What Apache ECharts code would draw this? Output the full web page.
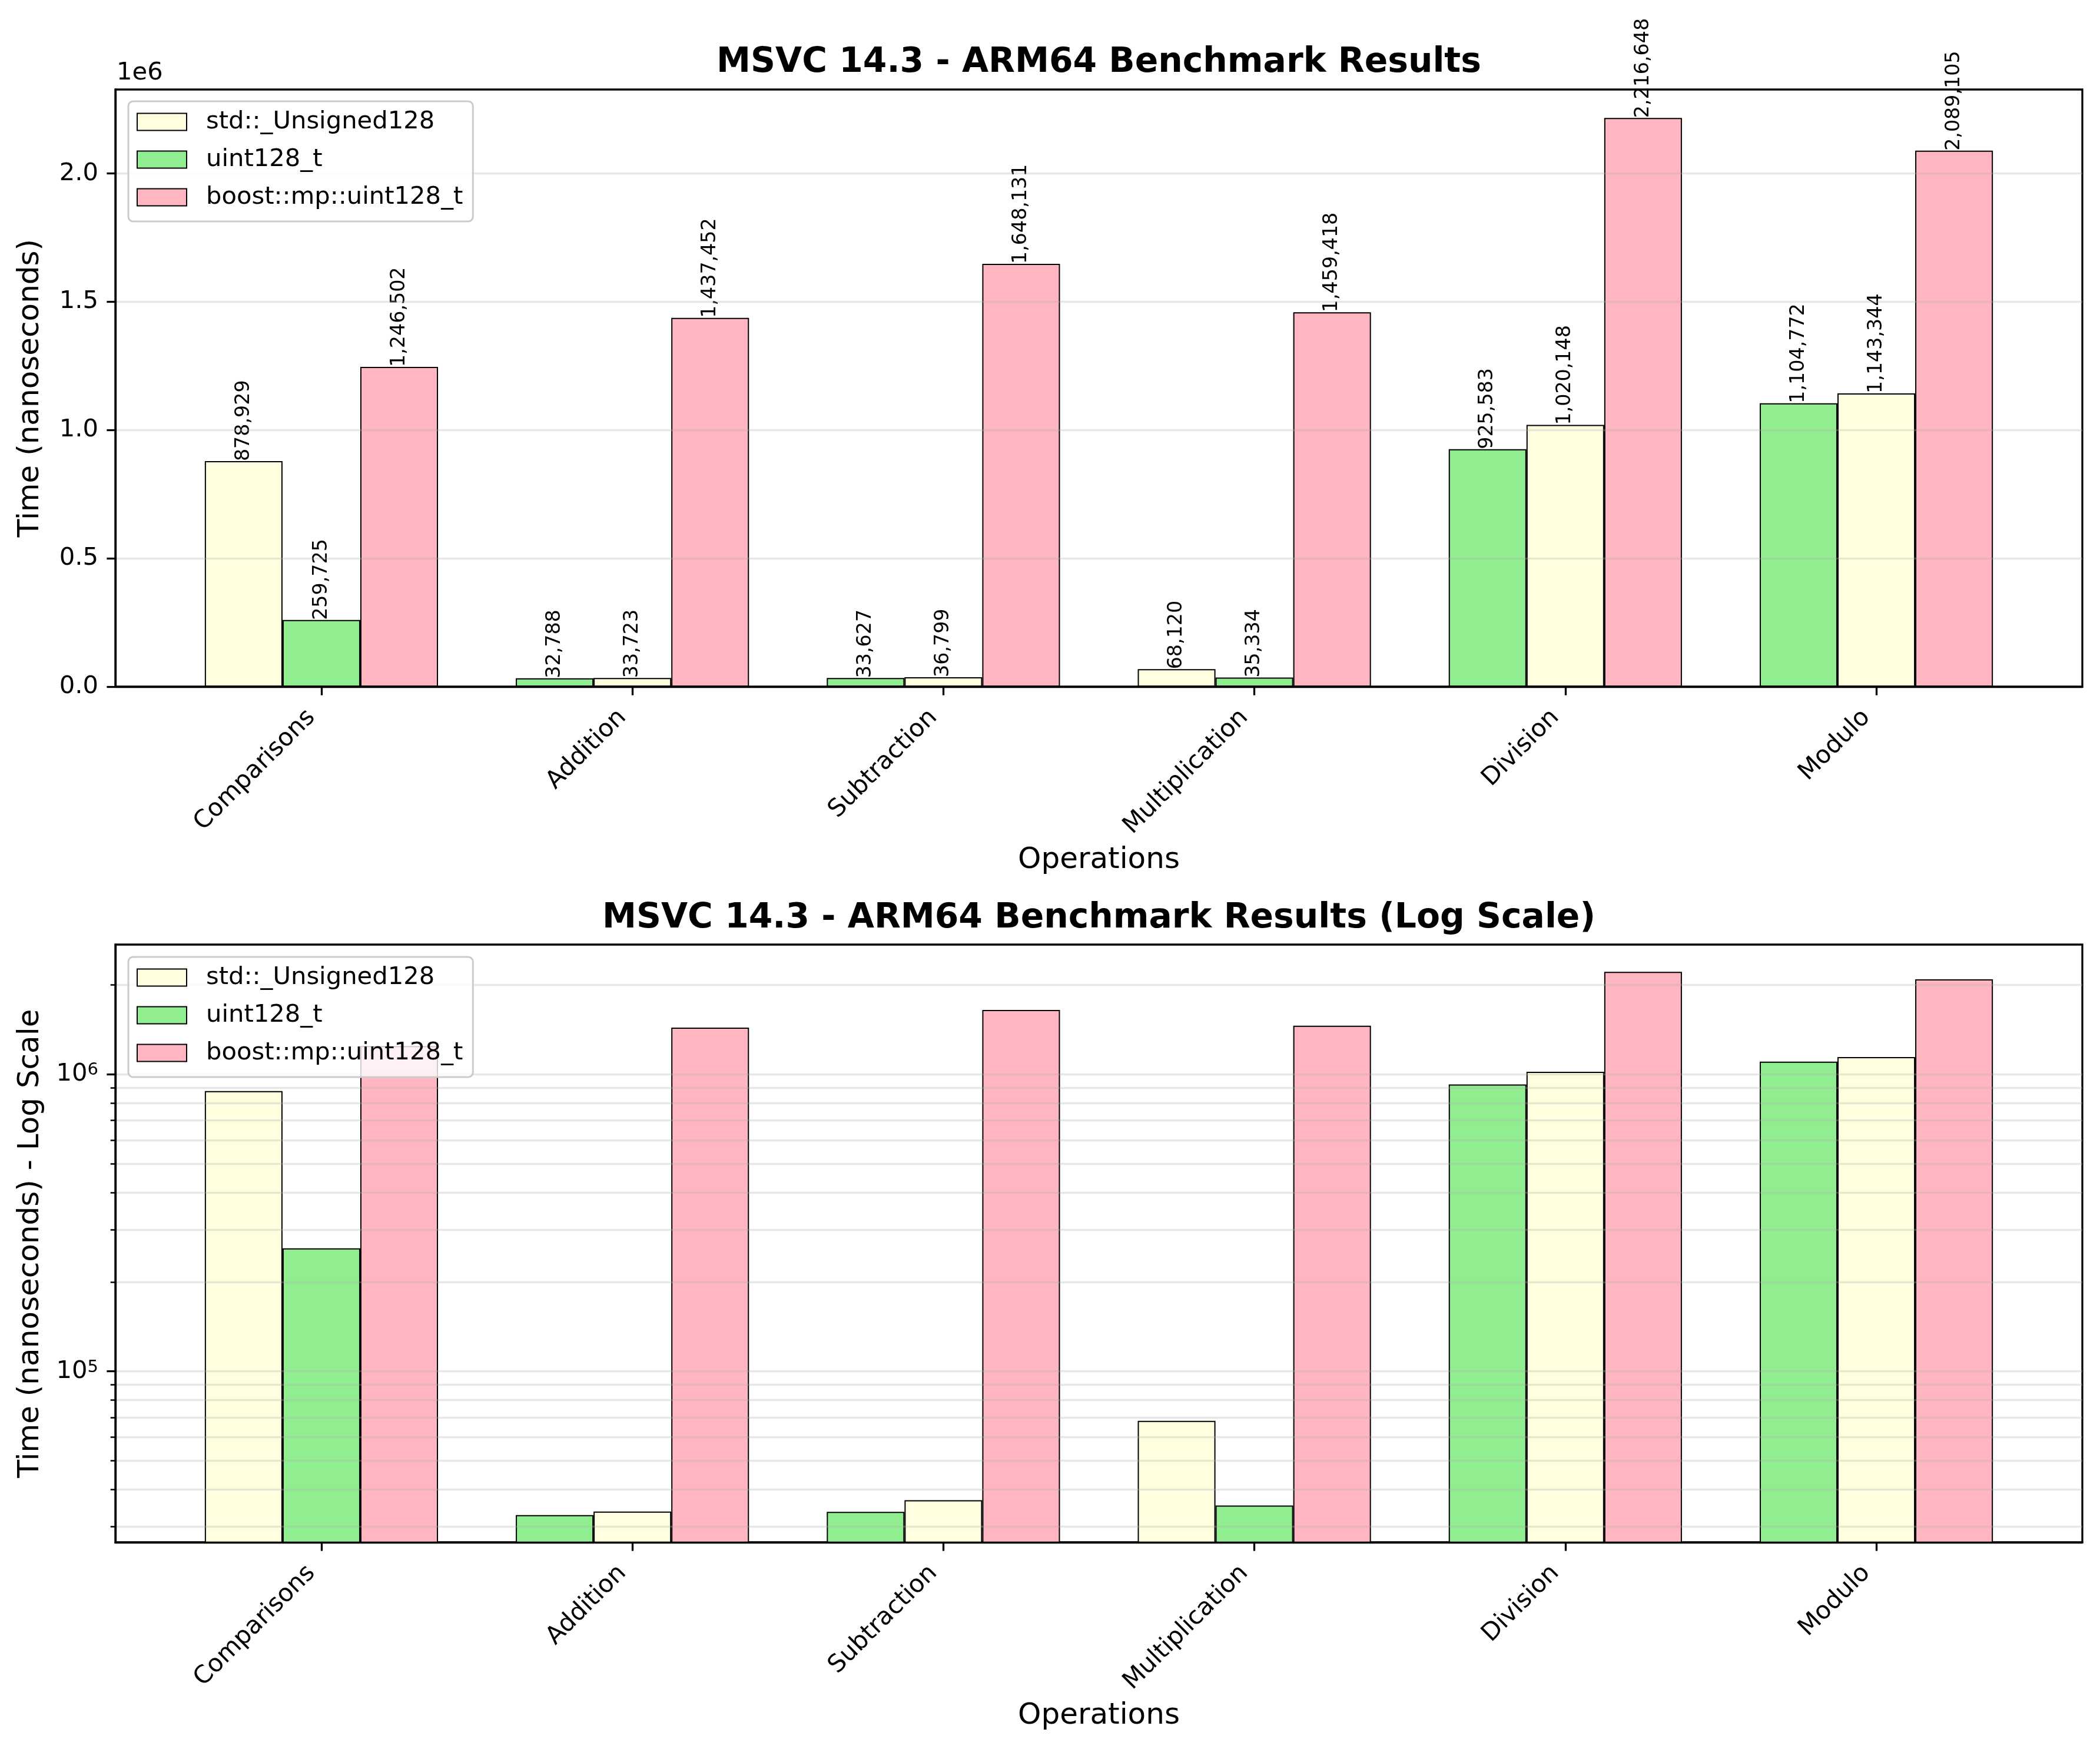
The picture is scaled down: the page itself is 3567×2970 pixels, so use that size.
<!DOCTYPE html>
<html>
<head>
<meta charset="utf-8">
<title>MSVC 14.3 - ARM64 Benchmark Results</title>
<script src="https://cdn.jsdelivr.net/npm/echarts@6/dist/echarts.min.js"></script>
<style>
  html, body { margin: 0; padding: 0; background: #ffffff; }
  #chart { width: 3567px; height: 2970px; }
</style>
</head>
<body>
<div id="chart"></div>
<script>
// =====================
// 数据
// =====================

const operations = ["Comparisons", "Addition", "Subtraction", "Multiplication", "Division", "Modulo"];
const seriesNames = ["std::_Unsigned128", "uint128_t", "boost::mp::uint128_t"];

const stdValues = [878929, 32788, 33627, 68120, 925583, 1104772];
const uintValues = [259725, 33723, 36799, 35334, 1020148, 1143344];
const boostValues = [1246502, 1437452, 1648131, 1459418, 2216648, 2089105];

const linearTicks = [0, 500000, 1000000, 1500000, 2000000];
const logMajorTicks = [100000, 1000000];
const logMinorTicks = [
  30000, 40000, 50000, 60000, 70000, 80000, 90000,
  200000, 300000, 400000, 500000, 600000, 700000, 800000, 900000,
  2000000,
];

// =====================
// 样式
// =====================

const FONT = "DejaVu Sans";
const YELLOW = "#FFFFE0";
const GREEN = "#90EE90";
const PINK = "#FFB6C1";
const legendColors = [YELLOW, GREEN, PINK];
const GRID_LINE = "rgba(176,176,176,0.3)";

const GRID_LEFT = 196;
const GRID_RIGHT = 30;
const GRID_WIDTH = 3567 - GRID_LEFT - GRID_RIGHT;
const TOP1 = 152;
const TOP2 = 1604;
const GRID_HEIGHT = 1015;
const CENTER_X = GRID_LEFT + GRID_WIDTH / 2;

const allValues = [stdValues, uintValues, boostValues];

// matplotlib 风格的坐标范围 (5% 边距)
const xMin = -0.375 - 0.05 * (operations.length - 1 + 0.75);
const xMax = operations.length - 1 + 0.375 + 0.05 * (operations.length - 1 + 0.75);
const dataMax = Math.max(...boostValues, ...stdValues, ...uintValues);
const dataMin = Math.min(...stdValues, ...uintValues, ...boostValues);
const linearMax = dataMax * 1.05;
const logLo = Math.log10(dataMin);
const logHi = Math.log10(dataMax);
const logMin = Math.pow(10, logLo - 0.05 * (logHi - logLo));
const logMax = Math.pow(10, logHi + 0.05 * (logHi - logLo));

// 最快为绿色, 最慢为粉色, 中间为黄色
function rankColor(i, v) {
  const vals = allValues.map((arr) => arr[i]);
  if (v === Math.min(...vals)) return GREEN;
  if (v === Math.max(...vals)) return PINK;
  return YELLOW;
}

// =====================
// 构建
// =====================

function buildSeries(axisIndex, yIndex, withLabels) {
  return allValues.map((values, s) => {
    return {
      name: seriesNames[s],
      type: "bar",
      xAxisIndex: axisIndex,
      yAxisIndex: yIndex,
      barWidth: "25%",
      barGap: "0%",
      clip: true,
      itemStyle: { color: legendColors[s], borderColor: "#000", borderWidth: 2 },
      label: withLabels
        ? {
            show: true,
            position: "top",
            distance: 0,
            rotate: 90,
            align: "left",
            verticalAlign: "middle",
            fontFamily: FONT,
            fontSize: 33.3,
            color: "#000",
            formatter: (p) => p.value[1].toLocaleString("en-US"),
          }
        : { show: false },
      data: values.map((v, i) => ({
        value: [i, v],
        itemStyle: { color: rankColor(i, v) },
      })),
    };
  });
}

function buildXAxis(gridIndex) {
  return {
    type: "value",
    gridIndex: gridIndex,
    min: xMin,
    max: xMax,
    z: 3,
    name: "Operations",
    nameLocation: "middle",
    nameGap: 270,
    nameMoveOverlap: false,
    nameTextStyle: { fontFamily: FONT, fontSize: 50, color: "#000" },
    axisLine: { show: true, onZero: false, lineStyle: { color: "#000", width: 3.3 } },
    axisTick: {
      show: true,
      length: 14.6,
      customValues: operations.map((_, i) => i),
      lineStyle: { color: "#000", width: 3.3 },
    },
    axisLabel: {
      show: true,
      customValues: operations.map((_, i) => i),
      formatter: (v) => operations[Math.round(v)],
      rotate: 45,
      margin: 29,
      padding: [0, 24, 0, 0],
      fontFamily: FONT,
      fontSize: 41.7,
      color: "#000",
    },
    splitLine: { show: false },
  };
}

function buildLegend(top) {
  return {
    orient: "vertical",
    left: 218,
    top: top,
    icon: "rect",
    itemWidth: 84,
    itemHeight: 29,
    itemGap: 22,
    padding: [14, 17, 20, 14],
    backgroundColor: "rgba(255,255,255,0.8)",
    borderColor: "#cccccc",
    borderWidth: 3,
    borderRadius: 8,
    itemStyle: { borderColor: "#000", borderWidth: 2 },
    textStyle: {
      fontFamily: FONT,
      fontSize: 41.7,
      lineHeight: 42,
      color: "#000",
      padding: [0, 0, 0, 28],
    },
    data: seriesNames,
  };
}

// =====================
// 图表
// =====================

const chart = echarts.init(document.getElementById("chart"));

chart.setOption({
  animation: false,
  backgroundColor: "#ffffff",

  graphic: [
    {
      type: "text",
      x: CENTER_X,
      y: 107,
      style: {
        text: "MSVC 14.3 - ARM64 Benchmark Results",
        font: 'bold 58.3px "DejaVu Sans"',
        fill: "#000",
        align: "center",
        verticalAlign: "middle",
      },
    },
    {
      type: "text",
      x: CENTER_X,
      y: 1560,
      style: {
        text: "MSVC 14.3 - ARM64 Benchmark Results (Log Scale)",
        font: 'bold 58.3px "DejaVu Sans"',
        fill: "#000",
        align: "center",
        verticalAlign: "middle",
      },
    },
    {
      type: "text",
      x: 198,
      y: 124,
      style: {
        text: "1e6",
        font: '41.7px "DejaVu Sans"',
        fill: "#000",
        align: "left",
        verticalAlign: "middle",
      },
    },
  ],

  legend: [buildLegend(172), buildLegend(1625)],

  grid: [
    {
      left: GRID_LEFT, width: GRID_WIDTH, top: TOP1, height: GRID_HEIGHT - 1,
      show: true, borderColor: "#000", borderWidth: 3.3, outerBoundsMode: "none",
    },
    {
      left: GRID_LEFT, width: GRID_WIDTH, top: TOP2, height: GRID_HEIGHT,
      show: true, borderColor: "#000", borderWidth: 3.3, outerBoundsMode: "none",
    },
  ],

  xAxis: [buildXAxis(0), buildXAxis(1)],

  yAxis: [
    {
      type: "value",
      gridIndex: 0,
      min: 0,
      max: linearMax,
      z: 3,
      name: "Time (nanoseconds)",
      nameLocation: "middle",
      nameGap: 119,
      nameMoveOverlap: false,
      nameTextStyle: { fontFamily: FONT, fontSize: 50, color: "#000" },
      axisLine: { show: true, onZero: false, lineStyle: { color: "#000", width: 3.3 } },
      axisTick: {
        show: true,
        length: 14.6,
        customValues: linearTicks,
        lineStyle: { color: "#000", width: 3.3 },
      },
      axisLabel: {
        customValues: linearTicks,
        formatter: (v) => (v / 1e6).toFixed(1),
        margin: 29,
        fontFamily: FONT,
        fontSize: 41.7,
        color: "#000",
      },
      splitLine: { show: true, lineStyle: { color: GRID_LINE, width: 3.3 } },
    },
    {
      type: "log",
      logBase: 10,
      gridIndex: 1,
      position: "left",
      min: logMin,
      max: logMax,
      z: 3,
      name: "Time (nanoseconds) - Log Scale",
      nameLocation: "middle",
      nameGap: 119,
      nameMoveOverlap: false,
      nameTextStyle: { fontFamily: FONT, fontSize: 50, color: "#000" },
      axisLine: { show: true, onZero: false, lineStyle: { color: "#000", width: 3.3 } },
      axisTick: {
        show: true,
        length: 14.6,
        customValues: logMajorTicks,
        lineStyle: { color: "#000", width: 3.3 },
      },
      axisLabel: {
        customValues: logMajorTicks,
        formatter: (v) => "{b|10}{s|" + Math.round(Math.log10(v)) + "}",
        margin: 29,
        rich: {
          b: { fontFamily: FONT, fontSize: 41.7, lineHeight: 42, color: "#000" },
          s: { fontFamily: FONT, fontSize: 29, lineHeight: 29, verticalAlign: "top", color: "#000" },
        },
      },
      splitLine: { show: true, lineStyle: { color: GRID_LINE, width: 3.3 } },
    },
    {
      type: "log",
      logBase: 10,
      gridIndex: 1,
      position: "left",
      offset: 0,
      min: logMin,
      max: logMax,
      z: 3,
      axisLine: { show: false, onZero: false },
      axisTick: {
        show: true,
        length: 8.3,
        customValues: logMinorTicks,
        lineStyle: { color: "#000", width: 2.5 },
      },
      axisLabel: { show: false },
      splitLine: { show: true, lineStyle: { color: GRID_LINE, width: 3.3 } },
    },
  ],

  series: [...buildSeries(0, 0, true), ...buildSeries(1, 1, false)],
});
</script>
</body>
</html>
